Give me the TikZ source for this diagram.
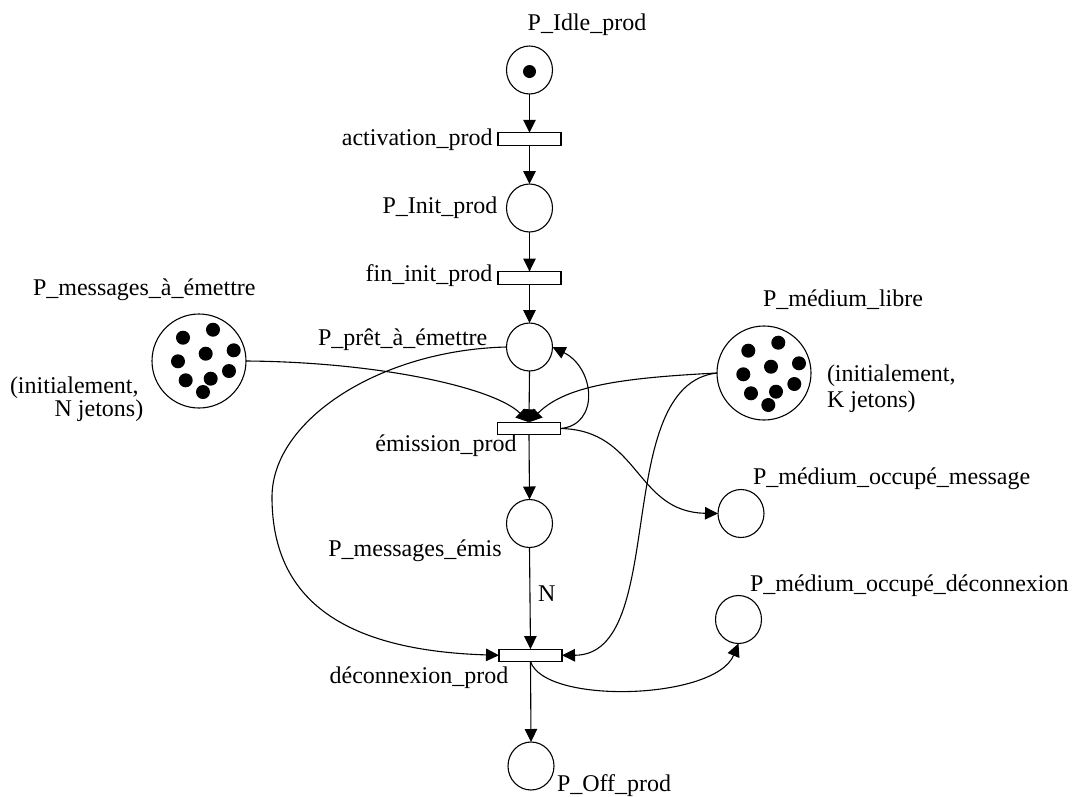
\documentclass[tikz,border=0pt]{standalone}
\usepackage{fontspec}
\setmainfont{Liberation Serif}
\usetikzlibrary{arrows.meta,shapes.geometric}
\begin{document}
\begin{tikzpicture}[x=1pt,y=-1pt,
  every node/.style={inner sep=0pt, outer sep=0pt},
  place/.style={draw, ellipse, minimum width=46pt, minimum height=48pt, line width=1.1pt},
  bigplace/.style={draw, circle, minimum size=94pt, line width=1.1pt},
  trans/.style={draw, rectangle, minimum width=63pt, minimum height=12.5pt, line width=1.1pt, fill=white},
  arc/.style={line width=1.1pt, -{Triangle[width=12.5pt,length=13pt]}},
  lbl/.style={font=\fontsize{24pt}{28pt}\selectfont},
]
\useasboundingbox (0,0) rectangle (1072,796);

% places and transitions of the producer
\node[place] (idle) at (529.5,70) {};
\node[trans] (act) at (529.5,139) {};
\node[place] (init) at (529.5,208) {};
\node[trans] (fin) at (529.5,277.8) {};
\node[place] (pret) at (529.5,347) {};
\node[trans] (emi) at (529,428.5) {};
\node[place] (pme) at (529.5,523.5) {};
\node[trans] (dec) at (530.5,655.3) {};
\node[place] (off) at (531,766) {};

% shared places
\node[bigplace] (msg) at (199,361) {};
\node[bigplace] (lib) at (764,373) {};
\node[place] (occm) at (741,513.5) {};
\node[place] (occd) at (738.5,619.5) {};

% tokens
\fill (529.5,71.5) circle (6.5pt);
\foreach \dx/\dy in {-15.7/-22.3, 14.3/-30.3, 7/-6.3, 35/-9.7, -20.7/1.3,
                     30.3/11, -13/20.3, 12/18.7, 4.3/32} {
  \fill (764+\dx,373+\dy) circle (7pt);
  \fill (199+\dx-0.3,360+\dy) circle (7pt);
}

% labels
\node[lbl, anchor=base] (lidle) at (587,30) {P\_Idle\_prod};
\node[lbl, anchor=base east] (lact) at (492.5,145.7) {activation\_prod};
\node[lbl, anchor=base east] (linit) at (497.3,213) {P\_Init\_prod};
\node[lbl, anchor=base east] (lfin) at (492.3,281) {fin\_init\_prod};
\node[lbl, anchor=base east] (lpret) at (487.3,345) {P\_prêt\_à\_émettre};
\node[lbl, anchor=base east] (lemi) at (516.7,451.7) {émission\_prod};
\node[lbl, anchor=base east] (lpme) at (501.7,556.7) {P\_messages\_émis};
\node[lbl, anchor=base west] (lN) at (538,601) {N};
\node[lbl, anchor=base east] (ldec) at (508.3,683) {déconnexion\_prod};
\node[lbl, anchor=base west] (loff) at (557,791) {P\_Off\_prod};
\node[lbl, anchor=base west] (lmsg) at (33,295) {P\_messages\_à\_émettre};
\node[lbl, anchor=base west] (lmsg1) at (10,393) {(initialement,};
\node[lbl, anchor=base east] (lmsg2) at (143.3,416) {N jetons)};
\node[lbl, anchor=base west] (llib) at (763,306) {P\_médium\_libre};
\node[lbl, anchor=base west] (llib1) at (827,381.7) {(initialement,};
\node[lbl, anchor=base west] (llib2) at (827,407) {K jetons)};
\node[lbl, anchor=base west] (loccm) at (753,484) {P\_médium\_occupé\_message};
\node[lbl, anchor=base west] (loccd) at (750,591.7) {P\_médium\_occupé\_déconnexion};

% arcs along the producer's cycle
\draw[arc] (idle.south) -- (act.north);
\draw[arc] (act.south) -- (init.north);
\draw[arc] (init.south) -- (fin.north);
\draw[arc] (fin.south) -- (pret.north);
\draw[arc] (pret.south) -- (emi.north);
\draw[arc] (emi.south) -- (pme.north);
\draw[arc] (pme.south) -- (dec.north);
\draw[arc] (dec.south) -- (off.north);

% input arcs of emission_prod
\draw[arc] (msg.east) .. controls (380,362) and (495,388) .. (emi.north);
\draw[arc] (lib.west) .. controls (620,378) and (565,386) .. (emi.north);

% output arcs of emission_prod
\draw[arc] (emi.east) .. controls (600,425) and (595,368) .. (pret.east);
\draw[arc] (emi.east) .. controls (640,430) and (635,512) .. (occm.west);

% input arcs of deconnexion_prod
\draw[arc] (pret.west) .. controls (380,350) and (272,420) .. (272,497)
           .. controls (272,590) and (330,650) .. (dec.west);
\draw[arc] (lib.west) .. controls (610,385) and (670,655) .. (dec.east);

% output arc towards the disconnection medium place
\draw[arc] (dec.south) .. controls (545,705) and (715,700) .. (occd.south);
\end{tikzpicture}
\end{document}
